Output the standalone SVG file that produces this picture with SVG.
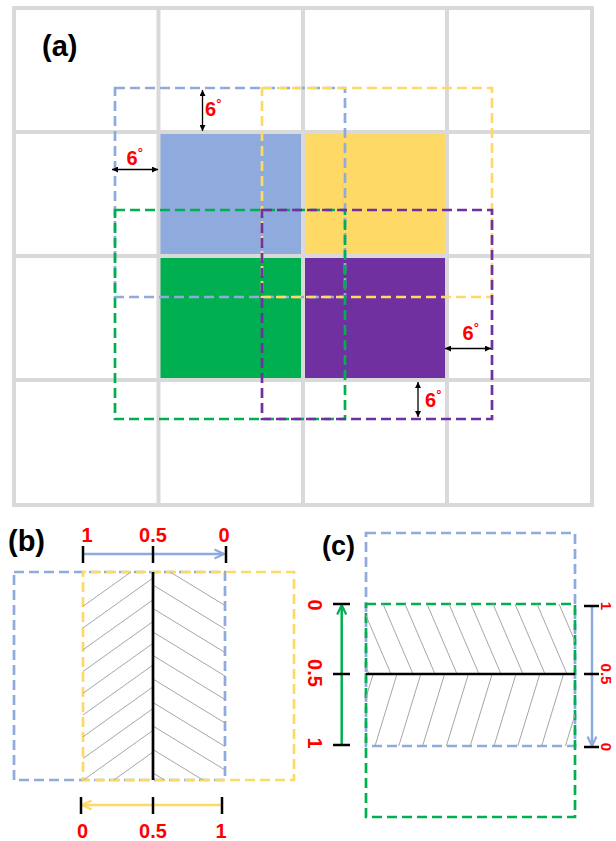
<svg xmlns="http://www.w3.org/2000/svg" width="616" height="841" viewBox="0 0 616 841">
<style>
.grid{fill:none;stroke:#d9d9d9;stroke-width:4}
.dash{fill:none;stroke-width:2.7;stroke-dasharray:10 5}
.b{stroke:#8faadc}.y{stroke:#ffd966}.g{stroke:#00b050}.p{stroke:#7030a0}
.hatch line{stroke:#a6a6a6;stroke-width:1}
.blk{stroke:#000;stroke-width:1.3;fill:none}
.tick{stroke:#000;stroke-width:2.5}
.num{font-family:"Liberation Sans",Arial,sans-serif;font-weight:bold;font-size:20px;fill:#ff0000;text-anchor:middle}
.numr{font-size:15px}
.six{font-family:"Liberation Sans",Arial,sans-serif;font-weight:bold;font-size:20px;fill:#ff0000}
.deg{font-size:13px}
.title{font-family:"Liberation Sans",Arial,sans-serif;font-weight:bold;fill:#000}
</style>
<defs>
<marker id="hk" viewBox="0 0 10 10" refX="10" refY="5" markerWidth="6" markerHeight="6" markerUnits="userSpaceOnUse" orient="auto-start-reverse"><path d="M0,0 L10,5 L0,10 z" fill="#000"/></marker>
<marker id="hb" viewBox="0 0 12 12" refX="10.5" refY="6" markerWidth="12" markerHeight="12" markerUnits="userSpaceOnUse" orient="auto"><path d="M1,1.5 L10.5,6 L1,10.5" fill="none" stroke="#8faadc" stroke-width="2.2"/></marker>
<marker id="hy" viewBox="0 0 12 12" refX="10.5" refY="6" markerWidth="12" markerHeight="12" markerUnits="userSpaceOnUse" orient="auto"><path d="M1,1.5 L10.5,6 L1,10.5" fill="none" stroke="#ffd966" stroke-width="2.2"/></marker>
<marker id="hg" viewBox="0 0 12 12" refX="10.5" refY="6" markerWidth="12" markerHeight="12" markerUnits="userSpaceOnUse" orient="auto"><path d="M1,1.5 L10.5,6 L1,10.5" fill="none" stroke="#00b050" stroke-width="2.2"/></marker>
<clipPath id="cbl"><rect x="83" y="572" width="70" height="208"/></clipPath>
<clipPath id="cbr"><rect x="153" y="572" width="72" height="208"/></clipPath>
<clipPath id="cct"><rect x="366" y="604" width="209" height="70"/></clipPath>
<clipPath id="ccb"><rect x="366" y="674" width="209" height="72"/></clipPath>
</defs>

<g id="panel-a">
<g id="cells">
<rect id="cell-blue" x="158" y="132" width="145" height="124" fill="#8faadc"/>
<rect id="cell-yellow" x="303" y="132" width="144" height="124" fill="#ffd966"/>
<rect id="cell-green" x="158" y="256" width="145" height="124" fill="#00b050"/>
<rect id="cell-purple" x="303" y="256" width="144" height="124" fill="#7030a0"/>
</g>
<g id="grid">
<rect class="grid" x="14" y="8" width="578" height="497"/>
<path class="grid" d="M158.5,8V505M303,8V505M447,8V505M14,132H592M14,256H592M14,380H592"/>
</g>
<g id="windows">
<rect id="win-blue" class="dash b" x="115" y="88" width="230" height="209"/>
<rect id="win-yellow" class="dash y" x="262" y="88" width="230" height="209"/>
<rect id="win-green" class="dash g" x="115" y="210" width="230" height="209"/>
<rect id="win-purple" class="dash p" x="262" y="210" width="230" height="209"/>
</g>
<text class="title" x="42" y="56" font-size="29">(a)</text>
<text class="six" x="205" y="116">6<tspan class="deg" dy="-8">°</tspan></text>
<text class="six" x="126.5" y="165">6<tspan class="deg" dy="-8">°</tspan></text>
<text class="six" x="462.5" y="340">6<tspan class="deg" dy="-8">°</tspan></text>
<text class="six" x="425" y="407">6<tspan class="deg" dy="-8">°</tspan></text>
</g>

<g id="panel-b">
<rect id="b-blue" class="dash b" x="14" y="572" width="211" height="208"/>
<rect id="b-yellow" class="dash y" x="83" y="572" width="211" height="208" stroke-dashoffset="7"/>
<g class="hatch" clip-path="url(#cbl)">
<line x1="153" y1="556.3" x2="83" y2="606.3"/><line x1="153" y1="578" x2="83" y2="628"/>
<line x1="153" y1="599.8" x2="83" y2="649.8"/><line x1="153" y1="621.5" x2="83" y2="671.5"/>
<line x1="153" y1="643.3" x2="83" y2="693.3"/><line x1="153" y1="665" x2="83" y2="715"/>
<line x1="153" y1="686.8" x2="83" y2="736.8"/><line x1="153" y1="708.5" x2="83" y2="758.5"/>
<line x1="153" y1="730.3" x2="83" y2="780.3"/><line x1="153" y1="752" x2="83" y2="802"/>
</g>
<g class="hatch" clip-path="url(#cbr)">
<line x1="153" y1="561.5" x2="225" y2="605.5"/><line x1="153" y1="585" x2="225" y2="629"/>
<line x1="153" y1="608.5" x2="225" y2="652.5"/><line x1="153" y1="632" x2="225" y2="676"/>
<line x1="153" y1="655.5" x2="225" y2="699.5"/><line x1="153" y1="679" x2="225" y2="723"/>
<line x1="153" y1="702.5" x2="225" y2="746.5"/><line x1="153" y1="726" x2="225" y2="770"/>
<line x1="153" y1="749.5" x2="225" y2="793.5"/><line x1="153" y1="773" x2="225" y2="817"/>
</g>
<line x1="153" y1="572" x2="153" y2="780" stroke="#000" stroke-width="2.7"/>
<text class="title" x="8" y="551" font-size="29">(b)</text>
<text class="num" x="87" y="542">1</text>
<text class="num" x="153" y="542">0.5</text>
<text class="num" x="224" y="542">0</text>
<text class="num" x="82.5" y="838">0</text>
<text class="num" x="153" y="838">0.5</text>
<text class="num" x="221" y="838">1</text>
</g>

<g id="panel-c">
<rect id="c-blue" class="dash b" x="366" y="533" width="209" height="213"/>
<rect id="c-green" class="dash g" x="366" y="604" width="209" height="213"/>
<g class="hatch" clip-path="url(#cct)">
<line x1="339" y1="604" x2="369" y2="674"/><line x1="361" y1="604" x2="391" y2="674"/>
<line x1="383" y1="604" x2="413" y2="674"/><line x1="405" y1="604" x2="435" y2="674"/>
<line x1="427" y1="604" x2="457" y2="674"/><line x1="449" y1="604" x2="479" y2="674"/>
<line x1="471" y1="604" x2="501" y2="674"/><line x1="493" y1="604" x2="523" y2="674"/>
<line x1="515" y1="604" x2="545" y2="674"/><line x1="537" y1="604" x2="567" y2="674"/>
<line x1="559" y1="604" x2="589" y2="674"/>
</g>
<g class="hatch" clip-path="url(#ccb)">
<line x1="373.2" y1="674" x2="351.2" y2="746"/><line x1="397" y1="674" x2="375" y2="746"/>
<line x1="420.8" y1="674" x2="398.8" y2="746"/><line x1="444.6" y1="674" x2="422.6" y2="746"/>
<line x1="468.4" y1="674" x2="446.4" y2="746"/><line x1="492.2" y1="674" x2="470.2" y2="746"/>
<line x1="516" y1="674" x2="494" y2="746"/><line x1="539.8" y1="674" x2="517.8" y2="746"/>
<line x1="563.6" y1="674" x2="541.6" y2="746"/><line x1="587.4" y1="674" x2="565.4" y2="746"/>
</g>
<line x1="366" y1="674" x2="575" y2="674" stroke="#000" stroke-width="2.7"/>
<text class="title" x="322" y="555" font-size="27">(c)</text>
<text class="num" transform="translate(308,605) rotate(90)">0</text>
<text class="num" transform="translate(308,673) rotate(90)">0.5</text>
<text class="num" transform="translate(308,743) rotate(90)">1</text>
<text class="num numr" transform="translate(601,606) rotate(90)">1</text>
<text class="num numr" transform="translate(601,674) rotate(90)">0.5</text>
<text class="num numr" transform="translate(601,747) rotate(90)">0</text>
</g>

<g id="connectors">
<line class="blk" x1="202.5" y1="90" x2="202.5" y2="131" marker-start="url(#hk)" marker-end="url(#hk)"/>
<line class="blk" x1="112" y1="169.5" x2="158" y2="169.5" marker-start="url(#hk)" marker-end="url(#hk)"/>
<line class="blk" x1="445" y1="348.5" x2="491" y2="348.5" marker-start="url(#hk)" marker-end="url(#hk)"/>
<line class="blk" x1="418" y1="382" x2="418" y2="417" marker-start="url(#hk)" marker-end="url(#hk)"/>
<line x1="83" y1="554" x2="224" y2="554" stroke="#8faadc" stroke-width="2.5" marker-end="url(#hb)"/>
<path class="tick" d="M83,546V563M153,546V563M226,546V563"/>
<line x1="222" y1="805" x2="82" y2="805" stroke="#ffd966" stroke-width="2.5" marker-end="url(#hy)"/>
<path class="tick" d="M81,797V814M153,797V814M222,797V814"/>
<line x1="341.7" y1="745" x2="341.7" y2="605" stroke="#00b050" stroke-width="2.5" marker-end="url(#hg)"/>
<path class="tick" d="M333,604H350M333,674H350M333,745H350"/>
<line x1="592" y1="606" x2="592" y2="746" stroke="#8faadc" stroke-width="2.5" marker-end="url(#hb)"/>
<path class="tick" d="M584,606H599M584,674H599M584,747H599"/>
</g>
</svg>
